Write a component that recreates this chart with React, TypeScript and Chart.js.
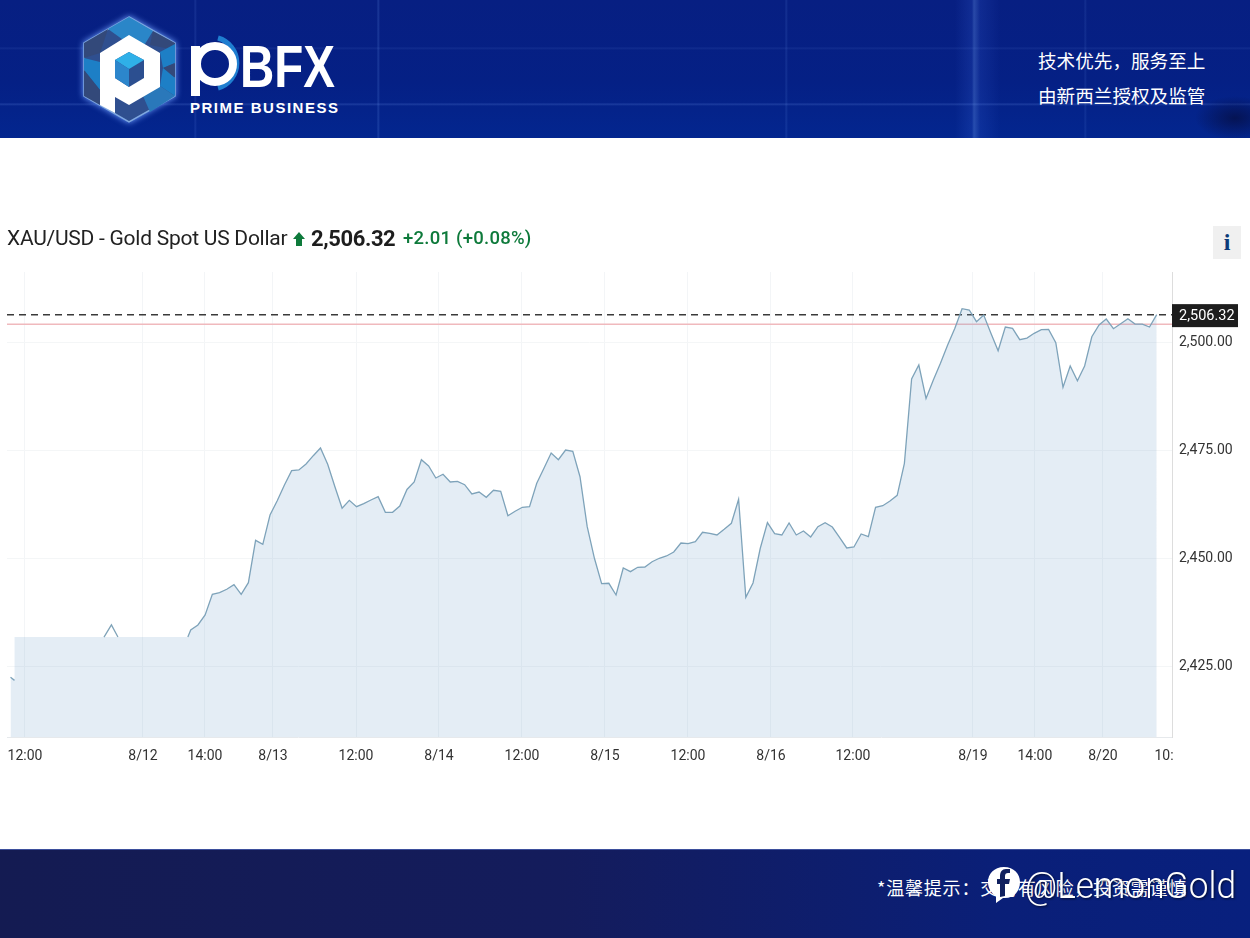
import React, { useEffect, useRef } from "react";
import { Chart, registerables } from "chart.js";

Chart.register(...registerables);

// Close prices, for index 25 to 159
const firstPriceIndex = 25;
const priceValues = [
  2433.53, 2434.69, 2437.0, 2441.77, 2442.14, 2442.93, 2443.99, 2441.77, 2444.45, 2454.23,
  2453.31, 2460.07, 2463.37, 2467.0, 2470.3, 2470.46, 2471.84, 2473.76, 2475.54, 2471.77,
  2466.6, 2461.62, 2463.46, 2461.99, 2462.68, 2463.53, 2464.3, 2460.69, 2460.69, 2462.15,
  2465.96, 2467.69, 2472.83, 2471.38, 2468.61, 2469.47, 2467.69, 2467.85, 2467.07, 2464.92,
  2465.38, 2464.16, 2465.77, 2465.54, 2459.91, 2460.93, 2461.85, 2461.99, 2467.39, 2470.85,
  2474.38, 2472.83, 2475.07, 2474.77, 2468.91, 2457.37, 2450.08, 2444.22, 2444.31, 2441.61,
  2447.84, 2446.99, 2448.0, 2448.07, 2449.29, 2450.08, 2450.61, 2451.53, 2453.61, 2453.45,
  2453.91, 2456.08, 2455.85, 2455.46, 2456.77, 2458.16, 2463.7, 2441.08, 2444.38, 2452.34,
  2458.3, 2455.76, 2455.46, 2458.23, 2455.46, 2456.38, 2455.0, 2457.37, 2458.3, 2457.3,
  2454.93, 2452.46, 2452.69, 2455.69, 2455.06, 2461.85, 2462.22, 2463.3, 2464.62, 2472.0,
  2491.46, 2494.69, 2486.96, 2491.16, 2495.08, 2499.31, 2503.16, 2507.69, 2507.39, 2504.69,
  2506.23, 2502.01, 2497.99, 2503.46, 2503.16, 2500.53, 2500.92, 2502.01, 2502.84, 2502.93,
  2499.84, 2489.54, 2494.46, 2491.07, 2494.46, 2501.22, 2503.92, 2505.31, 2503.07, 2504.22,
  2505.38, 2504.15, 2504.15, 2503.46, 2506.32,
];

// The part of the line that the flat masked block leaves visible
const headX = [0, 0.56];
const headY = [2422.6, 2421.9];
const peakX = [12.97, 14, 14.9];
const peakY = [2431.9, 2434.7, 2431.9];
const joinX = [24.6];
const joinY = [2431.9];
const maskLevel = 2431.9;

const lastPrice = 2506.32;
const prevClose = 2504.1;

const xTickPositions = [2.01, 18.38, 26.98, 36.41, 47.93, 59.44, 70.95, 82.46, 93.98, 105.49, 116.86, 133.5, 142.1, 151.54, 160.01];
const xTickLabels = ["12:00", "8/12", "14:00", "8/13", "12:00", "8/14", "12:00", "8/15", "12:00", "8/16", "12:00", "8/19", "14:00", "8/20", "10:"];
const yTickValues = [2425, 2450, 2475, 2500];

const xMin = -0.485;
const xMax = 161.12;
const yMin = 2408.83;
const yMax = 2516.16;

const zip = (xs: number[], ys: number[]) => xs.map((x, i) => ({ x, y: ys[i] }));

const FB = "Roboto, sans-serif";
const CJK = '"Noto Sans CJK SC", sans-serif';

const priceTag = {
  id: "priceTag",
  afterDraw(chart: any) {
    const { ctx, scales } = chart;
    const y = scales.y.getPixelForValue(lastPrice);
    ctx.save();
    ctx.fillStyle = "#1d1d1d";
    ctx.fillRect(1172, y - 10.5, 66, 23);
    ctx.fillStyle = "#ffffff";
    ctx.font = "14.5px " + FB;
    ctx.textAlign = "left";
    ctx.textBaseline = "middle";
    ctx.fillText(lastPrice.toLocaleString("en-US", { minimumFractionDigits: 2 }), 1179, y + 2);
    ctx.restore();
  },
};

function Logo() {
  return (
    <svg width={345} height={138} style={{ position: "absolute", left: 0, top: 0 }}>
      <polygon points="129,17 175,43 175,96 129,122 84,96 84,43" fill="#2f4f8f" stroke="#7fa8e0" strokeWidth={1.5} style={{ filter: "drop-shadow(0 0 3px #6f9fff)" }} />
      <polygon points="129,17 153,31 140,52 108,29" fill="#2a86c8" />
      <polygon points="153,31 175,43 175,50 150,45" fill="#33497a" />
      <polygon points="160,52 175,44 175,63 163,68" fill="#1d7fc6" />
      <polygon points="163,68 175,63 175,78" fill="#33497a" />
      <polygon points="163,68 175,78 175,96 160,86" fill="#1d7fc6" />
      <polygon points="84,43 108,29 100,53 84,58" fill="#33497a" />
      <polygon points="84,58 100,62 100,90 84,70" fill="#1d7fc6" />
      <polygon points="84,70 100,90 100,105 84,96" fill="#33497a" />
      <polygon points="160,86 175,96 150,112 143,96" fill="#2a78ba" />
      <polygon points="129,35 160,53 160,87 129,105 115,97 115,113 100,105 100,53" fill="#ffffff" />
      <polygon points="129,52 144,60 144,78 129,87 115,78 115,60" fill="#2c4f90" />
      <polygon points="129,52 144,60 129,69 115,60" fill="#2fb0e8" />
      <polygon points="115,60 129,69 129,87 115,78" fill="#2c86cc" />
      <path d="M218 38 A 26 26 0 0 1 218 88" fill="none" stroke="#1f7ed0" strokeWidth={5} />
      <circle cx={215} cy={64} r={18} fill="none" stroke="#ffffff" strokeWidth={8} />
      <rect x={191} y={46} width={9} height={50} fill="#ffffff" />
      <text x={240} y={87} fill="#ffffff" fontFamily="Liberation Sans" fontWeight={700} fontSize={60} textLength={95} lengthAdjust="spacingAndGlyphs">BFX</text>
      <text x={190} y={113} fill="#ffffff" fontFamily="Liberation Sans" fontWeight={700} fontSize={15} textLength={148}>PRIME BUSINESS</text>
    </svg>
  );
}

function Fb() {
  return (
    <svg width={34} height={38} style={{ position: "absolute", left: 987, top: 866 }}>
      <path d="M17 1 C7 1 1 8 1 16 C1 22 4 27 9 30 L9 37 L16 32 C27 33 33 25 33 16 C33 8 27 1 17 1 Z" fill="#ffffff" />
      <path d="M18 30 L18 18 L22 18 L23 13 L18 13 L18 10 C18 8 19 7 21 7 L23 7 L23 3 L19 3 C15 3 13 6 13 10 L13 13 L10 13 L10 18 L13 18 L13 31 Z" fill="#10205f" />
    </svg>
  );
}

const abs = (left: number, top: number, extra: any = {}) => ({
  position: "absolute" as const,
  left,
  top,
  whiteSpace: "nowrap" as const,
  lineHeight: 1,
  ...extra,
});

export default function App() {
  const ref = useRef<HTMLCanvasElement>(null);

  useEffect(() => {
    document.body.style.margin = "0";
    document.body.style.overflow = "hidden";
    const priceLine = priceValues.map((y, i) => ({ x: firstPriceIndex + i, y }));
    const chart = new Chart(ref.current as HTMLCanvasElement, {
      type: "line",
      data: {
        datasets: [
          {
            label: "area",
            data: [
              ...zip(headX, headY),
              { x: headX[1], y: maskLevel },
              { x: joinX[0], y: maskLevel },
              ...priceLine,
            ],
            borderWidth: 0,
            pointRadius: 0,
            fill: "start",
            backgroundColor: "rgba(120,165,205,0.2)",
            tension: 0,
          },
          { label: "head", data: zip(headX, headY), borderColor: "#7fa3b8", borderWidth: 1.3, pointRadius: 0, fill: false, tension: 0 },
          { label: "peak", data: zip(peakX, peakY), borderColor: "#7fa3b8", borderWidth: 1.3, pointRadius: 0, fill: false, tension: 0 },
          { label: "XAU/USD", data: [...zip(joinX, joinY), ...priceLine], borderColor: "#7fa3b8", borderWidth: 1.3, pointRadius: 0, fill: false, tension: 0 },
          { label: "prev", data: [{ x: xMin, y: prevClose }, { x: xMax, y: prevClose }], borderColor: "#f0b9bd", borderWidth: 1.5, pointRadius: 0, fill: false },
          { label: "last", data: [{ x: xMin, y: lastPrice }, { x: xMax, y: lastPrice }], borderColor: "#3a3a3a", borderWidth: 1.5, borderDash: [7, 5], pointRadius: 0, fill: false },
        ],
      } as any,
      options: {
        responsive: false,
        animation: false,
        devicePixelRatio: 1,
        layout: { autoPadding: false, padding: { left: 7, top: 272, right: 0, bottom: 0 } },
        plugins: { legend: { display: false }, title: { display: false }, tooltip: { enabled: false } },
        scales: {
          x: {
            type: "linear",
            min: xMin,
            max: xMax,
            afterBuildTicks: (s: any) => {
              s.ticks = xTickPositions.map((value) => ({ value }));
            },
            afterFit: (s: any) => {
              s.height = 938 - 737;
              s.paddingLeft = 0;
              s.paddingRight = 0;
            },
            grid: {
              drawTicks: false,
              color: (c: any) => (c.index === xTickPositions.length - 1 ? "rgba(0,0,0,0)" : "#f3f5f7"),
            },
            border: { color: "#e6e9ec" },
            ticks: {
              autoSkip: false,
              maxRotation: 0,
              padding: 11,
              color: "#333333",
              font: { family: "Roboto", size: 14 },
              callback: (_v: any, i: number) => xTickLabels[i],
            },
          },
          y: {
            type: "linear",
            position: "right",
            min: yMin,
            max: yMax,
            afterBuildTicks: (s: any) => {
              s.ticks = yTickValues.map((value) => ({ value }));
            },
            afterFit: (s: any) => {
              s.width = 1250 - 1172;
              s.paddingTop = 0;
              s.paddingBottom = 0;
            },
            grid: { drawTicks: false, color: "#f4f6f7" },
            border: { color: "#dddddd" },
            ticks: {
              padding: 7,
              color: "#333333",
              font: { family: "Roboto", size: 14 },
              callback: (v: any) => Number(v).toLocaleString("en-US", { minimumFractionDigits: 2 }),
            },
          },
        },
      } as any,
      plugins: [priceTag],
    });
    return () => chart.destroy();
  }, []);

  return (
    <div style={{ position: "absolute", left: 0, top: 0, width: 1250, height: 938, background: "#ffffff", overflow: "hidden", fontFamily: FB }}>
      <canvas ref={ref} width={1250} height={938} style={{ position: "absolute", left: 0, top: 0 }} />

      <div
        style={{
          position: "absolute",
          left: 0,
          top: 0,
          width: 1250,
          height: 138,
          background: [
            "radial-gradient(ellipse 40px 22px at 1235px 118px, rgba(5,15,70,.8), transparent)",
            "linear-gradient(90deg, transparent 194px, rgba(120,160,255,.14) 195px, transparent 197px)",
            "linear-gradient(90deg, transparent 377px, rgba(120,170,255,.2) 378px, transparent 380px)",
            "linear-gradient(90deg, transparent 785px, rgba(120,170,255,.14) 786px, transparent 788px)",
            "linear-gradient(90deg, transparent 955px, rgba(80,130,255,.14) 972px, rgba(120,170,255,.3) 974px, rgba(80,130,255,.12) 980px, transparent 1000px)",
            "linear-gradient(90deg, transparent 1084px, rgba(120,170,255,.12) 1085px, transparent 1087px)",
            "linear-gradient(180deg, transparent 47px, rgba(130,170,255,.1) 48px, transparent 50px)",
            "linear-gradient(180deg, transparent 103px, rgba(130,170,255,.2) 104px, transparent 106px)",
            "linear-gradient(180deg, #071f82 0%, #052085 60%, #03268f 100%)",
          ].join(","),
        }}
      >
        <Logo />
        <div style={abs(1038, 51, { color: "#fff", fontFamily: CJK, fontSize: 18.6 })}>技术优先，服务至上</div>
        <div style={abs(1038, 86, { color: "#fff", fontFamily: CJK, fontSize: 18.6 })}>由新西兰授权及监管</div>
      </div>

      <div style={abs(7, 228, { fontSize: 21, color: "#222", letterSpacing: -0.25 })}>XAU/USD - Gold Spot US Dollar</div>
      <svg width={14} height={14} style={{ position: "absolute", left: 292, top: 232 }}>
        <polygon points="7,0 13,7 10,7 10,14 4,14 4,7 1,7" fill="#0e7a3b" />
      </svg>
      <div style={abs(311, 228, { fontSize: 22, fontWeight: 700, color: "#1d1d1d", letterSpacing: -0.4 })}>2,506.32</div>
      <div style={abs(403, 229, { fontSize: 18.5, fontWeight: 500, color: "#0e7a3b", letterSpacing: 0.25 })}>+2.01 (+0.08%)</div>
      <div style={{ position: "absolute", left: 1213, top: 226, width: 28, height: 33, background: "#f0f0f0", color: "#0d3a78", fontFamily: "Liberation Serif", fontWeight: 700, fontSize: 24, lineHeight: "33px", textAlign: "center" }}>i</div>

      <div
        style={{
          position: "absolute",
          left: 0,
          top: 849,
          width: 1250,
          height: 89,
          borderTop: "1px solid #3d4f9c",
          boxSizing: "border-box",
          background: "linear-gradient(90deg, #141b52 0%, #141c5c 45%, #0a1f78 80%, #08207e 100%)",
        }}
      />
      <div style={abs(877, 878, { color: "#fff", fontFamily: CJK, fontSize: 18, letterSpacing: 0.8 })}>*温馨提示：交易有风险，投资需谨慎</div>
      <Fb />
      <svg width={230} height={50} style={{ position: "absolute", left: 1025, top: 860 }}>
        <text x={0} y={38} fill="#ffffff" fontFamily="Roboto" fontWeight={300} fontSize={37} textLength={211} lengthAdjust="spacingAndGlyphs" style={{ filter: "drop-shadow(1px 1px 1px rgba(0,0,0,.6))" }}>@LemonGold</text>
      </svg>
    </div>
  );
}
